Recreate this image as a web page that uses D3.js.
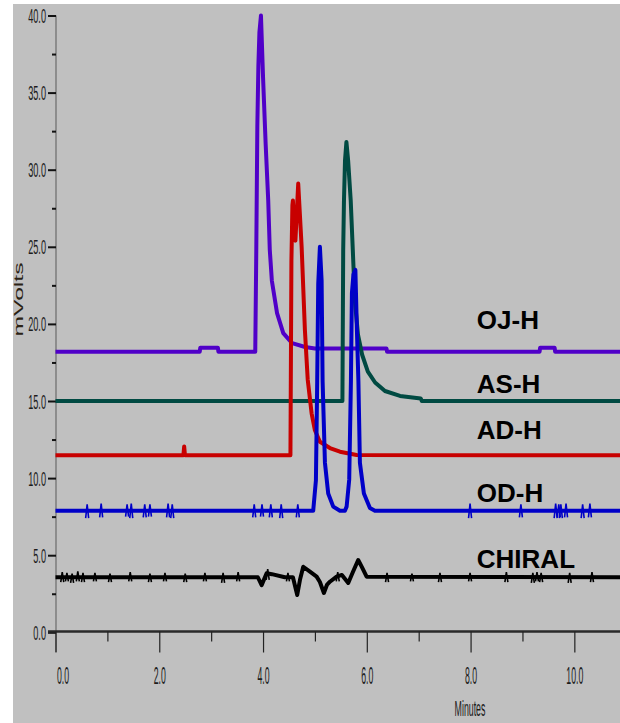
<!DOCTYPE html>
<html>
<head>
<meta charset="utf-8">
<script src="https://cdn.jsdelivr.net/npm/d3@7"></script>
<style>
body { margin: 0; background: #fff; }
svg { display: block; }
</style>
</head>
<body>
<div id="chart"></div>
<script>
// chromatogram traces, [minutes, mVolts]
const ojh = [[0, 18.2], [2.78, 18.2], [2.79, 18.45], [3.13, 18.45], [3.14, 18.2], [3.85, 18.2],
  [3.87, 24.8], [3.89, 32.8], [3.91, 36.7], [3.93, 38.9], [3.96, 40.0], [4.0, 36.0], [4.05, 31.7],
  [4.1, 28.0], [4.13, 24.8], [4.17, 22.8], [4.27, 20.7], [4.39, 19.4], [4.56, 18.75], [4.81, 18.5],
  [5.0, 18.4], [6.38, 18.4], [6.39, 18.2], [9.33, 18.2], [9.34, 18.45], [9.62, 18.45], [9.63, 18.2],
  [10.9, 18.2]];
const ash = [[0, 15.0], [5.53, 15.0], [5.545, 24.8], [5.56, 28.0], [5.58, 30.6], [5.607, 31.8],
  [5.64, 30.6], [5.69, 28.0], [5.73, 24.8], [5.77, 21.5], [5.83, 19.3], [5.91, 18.0], [6.02, 16.9],
  [6.16, 16.2], [6.35, 15.65], [6.64, 15.33], [7.04, 15.16], [7.06, 15.0], [10.9, 15.0]];
const adh = [[0, 11.48], [2.465, 11.48], [2.48, 12.05], [2.495, 11.48], [4.528, 11.48], [4.547, 24.1],
  [4.566, 27.7], [4.576, 28.0], [4.605, 25.8], [4.624, 25.4], [4.678, 29.1], [4.744, 25.0],
  [4.807, 19.6], [4.861, 16.4], [4.936, 14.2], [5.0, 13.1], [5.096, 12.36], [5.289, 11.95],
  [5.482, 11.71], [5.803, 11.5], [10.9, 11.48]];
const odh = [[0, 7.88], [4.967, 7.88], [5.019, 9.85], [5.044, 16.3], [5.064, 22.6], [5.096, 25.0],
  [5.129, 22.8], [5.148, 16.3], [5.193, 11.0], [5.256, 9.0], [5.353, 8.15], [5.482, 7.88],
  [5.578, 7.88], [5.611, 8.15], [5.661, 9.9], [5.694, 16.3], [5.713, 22.0], [5.742, 23.2],
  [5.78, 23.5], [5.809, 19.6], [5.838, 16.3], [5.867, 11.0], [5.944, 9.0], [6.06, 8.06],
  [6.156, 7.88], [10.9, 7.88]];
const chiral = [[0, 3.57], [3.9, 3.57], [3.973, 3.06], [4.069, 3.83], [4.17, 3.77], [4.42, 3.57],
  [4.576, 3.57], [4.659, 2.42], [4.711, 3.39], [4.775, 4.25], [4.904, 3.93], [5.033, 3.61],
  [5.096, 3.26], [5.173, 2.55], [5.231, 3.07], [5.289, 3.28], [5.418, 3.61], [5.52, 3.72],
  [5.642, 3.2], [5.732, 3.91], [5.834, 4.69], [5.906, 4.23], [5.996, 3.61], [10.9, 3.57]];

// baseline noise spikes, [minutes, low, high]
const odhSpikes = [[0.61, 7.4, 8.3], [0.88, 7.45, 8.35], [1.38, 7.5, 8.3], [1.46, 7.4, 8.35],
  [1.72, 7.45, 8.3], [1.82, 7.5, 8.3], [2.17, 7.45, 8.35], [2.25, 7.4, 8.3], [3.83, 7.45, 8.3],
  [3.98, 7.5, 8.3], [4.15, 7.45, 8.3], [4.35, 7.4, 8.3], [4.67, 7.45, 8.3], [7.99, 7.4, 8.35],
  [8.97, 7.45, 8.3], [9.64, 7.4, 8.35], [9.7, 7.45, 8.3], [9.74, 7.4, 8.3], [9.84, 7.45, 8.35],
  [10.16, 7.4, 8.3], [10.3, 7.45, 8.35]];
const chiralSpikes = [[0.13, 3.25, 3.9], [0.22, 3.3, 3.85], [0.32, 3.2, 3.8], [0.43, 3.3, 3.95],
  [0.53, 3.25, 3.85], [0.76, 3.3, 3.85], [1.05, 3.25, 3.8], [1.44, 3.3, 3.9], [1.82, 3.25, 3.8],
  [2.11, 3.3, 3.85], [2.5, 3.25, 3.8], [2.88, 3.3, 3.85], [3.23, 3.2, 3.85], [3.52, 3.3, 3.9],
  [4.09, 3.4, 4.1], [4.48, 3.3, 3.85], [5.44, 3.3, 3.9], [6.39, 3.25, 3.85], [6.87, 3.3, 3.8],
  [7.41, 3.25, 3.85], [7.99, 3.3, 3.85], [8.69, 3.25, 3.9], [9.2, 3.2, 3.85], [9.28, 3.3, 3.9],
  [9.36, 3.25, 3.85], [9.91, 3.2, 3.85], [10.34, 3.25, 3.9]];

const names = ["OJ-H", "AS-H", "AD-H", "OD-H", "CHIRAL"];
const labelVal = [19.67, 15.52, 12.52, 8.44, 4.17];
const yMajor = [0, 5, 10, 15, 20, 25, 30, 35, 40];
const yMinor = [2.5, 7.5, 12.5, 17.5, 22.5, 27.5, 32.5, 37.5];
const xMajor = [0, 2, 4, 6, 8, 10];
const xMinor = [1, 3, 5, 7, 9];

const width = 620, height = 723;
const series = [ojh, ash, adh, odh, chiral];
const colors = ["#5000c8", "#004a42", "#c80000", "#0000c8", "#000000"];

const svg = d3.select("#chart").append("svg").attr("width", width).attr("height", height);
svg.append("rect").attr("x", 13).attr("y", 4).attr("width", width - 13).attr("height", height - 4)
  .attr("fill", "#c0c0c0");

const x = d3.scaleLinear().domain([0, 10.88]).range([55.5, 620]);
const y = d3.scaleLinear().domain([0, 40]).range([632.3, 15.5]);

// y axis
svg.append("line").attr("x1", 56).attr("x2", 56).attr("y1", y(40)).attr("y2", 652)
  .attr("stroke", "#6a6a6a").attr("stroke-width", 1.2);
const yAx = svg.append("g").attr("transform", "translate(56,0)")
  .call(d3.axisLeft(y).tickValues(yMajor).tickSize(8).tickSizeOuter(0).tickFormat(d3.format(".1f")));
yAx.select(".domain").remove();
yAx.selectAll("line").attr("stroke", "#111").attr("stroke-width", 2);
yAx.selectAll("text")
  .attr("x", -10 / 0.47).attr("dy", "0.36em")
  .attr("transform", "scale(0.47,1)")
  .style("font-family", "Arial, 'Liberation Sans', sans-serif").style("font-size", "19.5px")
  .attr("fill", "#1c1c1c");
const yMin = svg.append("g").attr("transform", "translate(56,0)")
  .call(d3.axisLeft(y).tickValues(yMinor).tickSize(4).tickSizeOuter(0).tickFormat(""));
yMin.select(".domain").remove();
yMin.selectAll("line").attr("stroke", "#111").attr("stroke-width", 2);

// x axis
svg.append("line").attr("x1", 48).attr("x2", 620).attr("y1", 631.5).attr("y2", 631.5)
  .attr("stroke", "#2a2a2a").attr("stroke-width", 2.5);
const xAx = svg.append("g").attr("transform", "translate(0,631.5)")
  .call(d3.axisBottom(x).tickValues(xMajor).tickSize(21).tickSizeOuter(0).tickFormat(d3.format(".1f")));
xAx.select(".domain").remove();
xAx.selectAll("line").attr("stroke", "#222").attr("stroke-width", 1.2);
xAx.selectAll("text")
  .attr("y", 0).attr("dy", 0)
  .attr("x", d => d === 0 ? 7 / 0.38 : 0)
  .attr("transform", "translate(0,52.5) scale(0.38,1)")
  .style("font-family", "Arial, 'Liberation Sans', sans-serif").style("font-size", "23px")
  .attr("fill", "#1c1c1c");
const xMin = svg.append("g").attr("transform", "translate(0,631.5)")
  .call(d3.axisBottom(x).tickValues(xMinor).tickSize(10).tickSizeOuter(0).tickFormat(""));
xMin.select(".domain").remove();
xMin.selectAll("line").attr("stroke", "#222").attr("stroke-width", 1.2);

svg.append("text").attr("transform", "translate(470,716) scale(0.4,1)")
  .attr("text-anchor", "middle")
  .style("font-family", "Arial, 'Liberation Sans', sans-serif").style("font-size", "22px")
  .attr("fill", "#1c1c1c").text("Minutes");

svg.append("text").attr("transform", "translate(23,299.5) rotate(-90)")
  .attr("text-anchor", "middle").attr("textLength", 74).attr("lengthAdjust", "spacingAndGlyphs")
  .style("font-family", "Arial, 'Liberation Sans', sans-serif").style("font-size", "12px")
  .attr("fill", "#2a2214").text("mVolts");

// traces
const line = d3.line().x(d => x(d[0])).y(d => y(d[1]));
svg.selectAll("path.trace").data(series).join("path")
  .attr("class", "trace")
  .attr("d", line)
  .attr("fill", "none")
  .attr("stroke", (d, i) => colors[i])
  .attr("stroke-width", 4)
  .attr("stroke-linejoin", "round");

// noise spikes drawn as small zig-zags through the scales
const spikeSets = [[odhSpikes, colors[3]], [chiralSpikes, colors[4]]];
spikeSets.forEach(([set, c]) => {
  svg.append("g").selectAll("path").data(set).join("path")
    .attr("d", d => `M${x(d[0]) - 1.5},${y(d[1])}L${x(d[0])},${y(d[2])}L${x(d[0]) + 1.5},${y(d[1])}`)
    .attr("fill", "none")
    .attr("stroke", c).attr("stroke-width", 1.6);
});

svg.selectAll("text.name").data(names).join("text")
  .attr("class", "name")
  .attr("x", x(8.12))
  .attr("y", (d, i) => y(labelVal[i]))
  .style("font-family", "Arial, 'Liberation Sans', sans-serif")
  .style("font-size", "26px").style("font-weight", "bold")
  .attr("fill", "#000")
  .text(d => d);
</script>
</body>
</html>
